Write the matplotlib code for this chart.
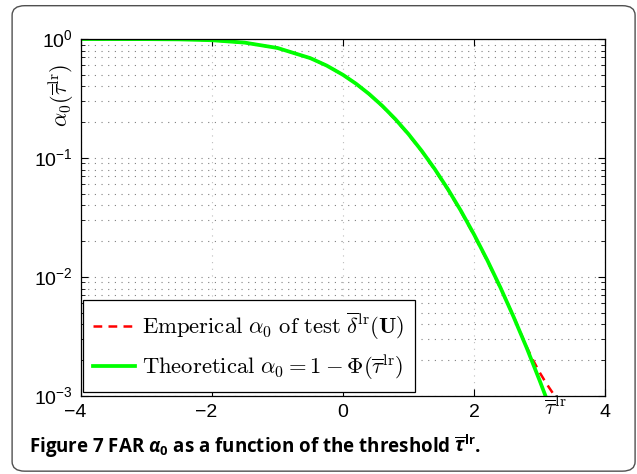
import numpy as np
import matplotlib
matplotlib.use("Agg")
import matplotlib.pyplot as plt
from matplotlib.patches import FancyBboxPatch
from matplotlib.ticker import LogLocator, FixedLocator, FuncFormatter, NullFormatter

# values
tau_theory = [-4.0, -3.5, -3.0, -2.5, -2.0, -1.5, -1.0, -0.5, -0.25, 0.0, 0.2, 0.4, 0.6,
              0.8, 1.0, 1.2, 1.4, 1.6, 1.8, 2.0, 2.2, 2.4, 2.6, 2.8, 3.0, 3.09]
alpha_theory = [0.99997, 0.99977, 0.99865, 0.99379, 0.97725, 0.93319, 0.84134, 0.69146,
                0.59871, 0.5, 0.42074, 0.34458, 0.27425, 0.21186, 0.15866, 0.11507,
                0.08076, 0.0548, 0.03593, 0.02275, 0.0139, 0.0082, 0.00466, 0.00256,
                0.00135, 0.001]

tau_emp = [-4.0, -3.5, -3.0, -2.5, -2.0, -1.5, -1.0, -0.5, -0.25, 0.0, 0.2, 0.4, 0.6,
           0.8, 1.0, 1.2, 1.4, 1.6, 1.8, 2.0, 2.2, 2.4, 2.6, 2.8, 2.9, 3.0, 3.1, 3.2, 3.3]
alpha_emp = [0.99997, 0.99977, 0.99865, 0.99379, 0.97725, 0.93319, 0.84134, 0.69146,
             0.59871, 0.5, 0.4195, 0.3432, 0.2725, 0.2100, 0.1570, 0.1138,
             0.0798, 0.0541, 0.0354, 0.0224, 0.0137, 0.0081, 0.0047, 0.0026,
             0.0020, 0.00158, 0.00128, 0.00106, 0.00088]

x_ticks = [-4, -2, 0, 2, 4]
tau_mark = 3.24

plt.rcParams['font.family'] = ['Liberation Sans', 'DejaVu Sans']
plt.rcParams['mathtext.fontset'] = 'custom'
plt.rcParams['mathtext.rm'] = 'Liberation Sans'
plt.rcParams['mathtext.it'] = 'Open Sans:italic:bold'
plt.rcParams['mathtext.bf'] = 'Open Sans:bold'

fig = plt.figure(figsize=(6.37, 4.74), dpi=100)
ax = fig.add_axes([0.127, 0.1646, 0.823, 0.753])

ax.plot(tau_emp, alpha_emp, color='#ff0000', ls=(0, (3.5, 2.5)), lw=1.8,
        label=r'$\mathrm{Emperical}\ \alpha_0\ \mathrm{of\ test}\ \overline{\delta}^{\mathrm{lr}}(\mathbf{U})$')
ax.plot(tau_theory, alpha_theory, color='#00ff00', lw=2.7,
        label=r'$\mathrm{Theoretical}\ \alpha_0 = 1-\Phi(\overline{\tau}^{\mathrm{lr}})$')

ax.set_yscale('log')
ax.set_xlim(-4, 4)
ax.set_ylim(1e-3, 1)


def xlab(v, p):
    # MATLAB style: digit sits on the tick, minus hangs to the left
    if v < 0:
        return f"\u2212{-v:.0f}\u2007"
    return f"{v:.0f}"


ax.xaxis.set_major_locator(FixedLocator(x_ticks))
ax.yaxis.set_major_locator(LogLocator(base=10, numticks=10))
ax.yaxis.set_minor_locator(LogLocator(base=10, subs=np.arange(2, 10), numticks=10))
ax.yaxis.set_minor_formatter(NullFormatter())
ax.xaxis.set_major_formatter(FuncFormatter(xlab))
ax.yaxis.set_major_formatter(FuncFormatter(lambda v, p: r"$10^{%d}$" % round(np.log10(v))))

ax.tick_params(which='both', direction='in', top=True, right=True, labelsize=14)
ax.tick_params(which='major', length=5, width=0.8)
ax.tick_params(which='minor', length=3, width=0.6)
ax.tick_params(axis='both', pad=6)

ax.grid(True, which='major', axis='x', color='#bdbdbd', ls=(0, (1, 5)), lw=0.8)
ax.grid(True, which='both', axis='y', color='#808080', ls=(0, (1, 5)), lw=0.8)
for s in ax.spines.values():
    s.set_linewidth(0.9)

ax.set_ylabel(r'$\alpha_0(\overline{\tau}^{\mathrm{lr}})$', fontsize=16, math_fontfamily='cm')
ax.yaxis.set_label_coords(-0.01, 0.843)

ax.text(tau_mark, -0.003, r'$\overline{\tau}^{\mathrm{lr}}$', transform=ax.get_xaxis_transform(),
        ha='center', va='top', fontsize=16, math_fontfamily='cm')

leg = ax.legend(loc='lower left', bbox_to_anchor=(0.004, 0.011), borderaxespad=0, fancybox=False,
                edgecolor='black', framealpha=1, handlelength=1.85, borderpad=0.45, labelspacing=0.45,
                handletextpad=0.3, prop={'size': 16.3})
leg.get_frame().set_linewidth(0.9)
for t in leg.get_texts():
    t.set_math_fontfamily('cm')

fig.text(0.046, 0.044, r'Figure 7 FAR $\alpha_\mathbf{0}$ as a function of the threshold $\overline{\tau}^{\mathbf{lr}}$.',
         fontsize=13.5, fontweight='bold', family='Open Sans')

border = FancyBboxPatch((0.019, 0.006), 0.978, 0.982, boxstyle='round,pad=0,rounding_size=0.02',
                        transform=fig.transFigure, fill=False, edgecolor='#505050', lw=1.0)
fig.patches.append(border)

fig.savefig('out.png', dpi=100)
